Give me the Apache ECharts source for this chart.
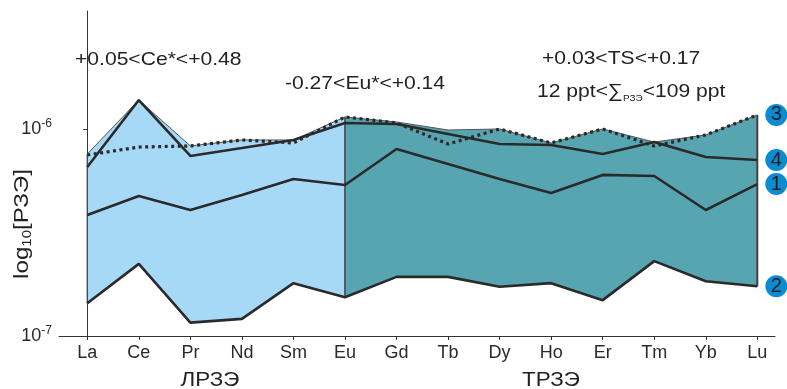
<!DOCTYPE html>
<html>
<head>
<meta charset="utf-8">
<script src="https://cdn.jsdelivr.net/npm/echarts@6/dist/echarts.min.js"></script>
<style>
  html, body { margin: 0; background: #fff; }
  #chart { width: 787px; height: 389px; }
</style>
</head>
<body>
<div id="chart"></div>
<script>
// элементы РЗЭ
const elements = ['La', 'Ce', 'Pr', 'Nd', 'Sm', 'Eu', 'Gd', 'Tb', 'Dy', 'Ho', 'Er', 'Tm', 'Yb', 'Lu'];

// концентрации
const sample1 = [3.84e-7, 4.75e-7, 4.06e-7, 4.80e-7, 5.73e-7, 5.36e-7, 8.00e-7, 6.78e-7, 5.73e-7, 4.91e-7, 6.00e-7, 5.93e-7, 4.06e-7, 5.42e-7];
const sample2 = [1.44e-7, 2.23e-7, 1.16e-7, 1.21e-7, 1.80e-7, 1.54e-7, 1.93e-7, 1.93e-7, 1.73e-7, 1.80e-7, 1.49e-7, 2.30e-7, 1.84e-7, 1.74e-7];
const sample3 = [7.49e-7, 8.18e-7, 8.28e-7, 8.85e-7, 8.56e-7, 1.143e-6, 1.069e-6, 8.46e-7, 1.00e-6, 8.56e-7, 1.00e-6, 8.28e-7, 9.36e-7, 1.169e-6];
const sample4 = [6.55e-7, 1.38e-6, 7.41e-7, 8.09e-7, 8.85e-7, 1.069e-6, 1.057e-6, 9.46e-7, 8.46e-7, 8.37e-7, 7.57e-7, 8.65e-7, 7.32e-7, 7.08e-7];
// верхняя граница поля
const upperBound = [7.57e-7, 1.38e-6, 8.28e-7, 8.85e-7, 8.85e-7, 1.143e-6, 1.081e-6, 9.89e-7, 1.00e-6, 8.56e-7, 1.00e-6, 8.65e-7, 9.36e-7, 1.169e-6];
const lowerBound = sample2.map((v, i) => Math.min(v, sample1[i], sample3[i], sample4[i]));

const yTickExp = [-7, -6];
const lreeIdx = [0, 1, 2, 3, 4, 5];
const hreeIdx = [5, 6, 7, 8, 9, 10, 11, 12, 13];
const edgeIdx = [0, 5, 13];

const lg = v => Math.log10(v);
const lineColor = '#2a2a2a';
const font = 'Liberation Sans, Arial, sans-serif';

const chart = echarts.init(document.getElementById('chart'));

// поле между верхней и нижней границей
const band = (idx, color) => ({
  type: 'custom', silent: true, z: 1,
  data: [[idx[0], lg(upperBound[idx[0]])]],
  renderItem: (params, api) => {
    const top = idx.map(i => api.coord([i, lg(upperBound[i])]));
    const bottom = idx.slice().reverse().map(i => api.coord([i, lg(lowerBound[i])]));
    return {
      type: 'polygon',
      shape: { points: top.concat(bottom) },
      style: { fill: color, stroke: '#555', lineWidth: 1 }
    };
  }
});

const edges = edgeIdx.map(i => ({
  type: 'line', silent: true, symbol: 'none', z: 2,
  data: [[i, lg(upperBound[i])], [i, lg(lowerBound[i])]],
  lineStyle: { width: i === 13 ? 2 : 1, color: '#444' }
}));

const sampleLine = (arr, label, dotted) => ({
  type: 'line', symbol: 'none', z: dotted ? 4 : 3,
  data: arr.map((v, i) => [i, lg(v)]),
  lineStyle: dotted
    ? { width: 3.2, color: lineColor, type: [3, 3.5], cap: 'butt' }
    : { width: 2.6, color: lineColor },
  endLabel: {
    show: true,
    formatter: label,
    distance: 19,
    align: 'center',
    verticalAlign: 'middle',
    width: 22, height: 22, lineHeight: 22,
    borderRadius: 11,
    backgroundColor: '#0a8bd2',
    color: '#1e1e1e',
    fontSize: 20,
    fontFamily: font
  }
});

const txt = (x, y, text, rich) => ({
  type: 'text', x, y, scaleX: 1.11, silent: true,
  style: {
    text, fill: '#222', font: '19px ' + font,
    align: 'left', verticalAlign: 'middle', rich
  }
});

const option = {
  animation: false,
  grid: { left: 59, right: 12, top: 11, bottom: 53 },
  xAxis: {
    type: 'value',
    min: -0.549,
    max: 13.343,
    axisLine: { lineStyle: { color: '#333', width: 1 } },
    axisTick: { customValues: elements.map((e, i) => i), length: 4, lineStyle: { color: '#333' } },
    axisLabel: {
      customValues: elements.map((e, i) => i),
      formatter: v => elements[v],
      fontSize: 18, fontFamily: font, color: '#2a2a2a', margin: 8
    },
    splitLine: { show: false }
  },
  yAxis: {
    type: 'value',
    min: -7,
    max: -5.43,
    axisLine: { show: true, lineStyle: { color: '#333', width: 1 } },
    axisTick: { show: true, customValues: [-6], length: 4, lineStyle: { color: '#333' } },
    axisLabel: {
      customValues: yTickExp,
      formatter: v => '{a|10}{b|' + v + '}',
      margin: 7,
      rich: {
        a: { fontSize: 18, fontFamily: font, color: '#2a2a2a', lineHeight: 22 },
        b: { fontSize: 12, fontFamily: font, color: '#2a2a2a', verticalAlign: 'top', lineHeight: 12 }
      }
    },
    splitLine: { show: false }
  },
  graphic: [
    txt(75, 60, '+0.05<Ce*<+0.48'),
    txt(285, 84, '-0.27<Eu*<+0.14'),
    txt(542, 59, '+0.03<TS<+0.17'),
    txt(537, 92, '{a|12 ppt<∑}{s|РЗЭ}{a|<109 ppt}', {
      a: { fontSize: 19, fontFamily: font, fill: '#222', lineHeight: 22 },
      s: { fontSize: 9, fontFamily: font, fill: '#222', verticalAlign: 'bottom', lineHeight: 9 }
    }),
    {
      type: 'text', x: 210, y: 380, scaleX: 1.12, silent: true,
      style: { text: 'ЛРЗЭ', fill: '#222', font: '20px ' + font, align: 'center', verticalAlign: 'middle' }
    },
    {
      type: 'text', x: 551, y: 380, scaleX: 1.12, silent: true,
      style: { text: 'ТРЗЭ', fill: '#222', font: '20px ' + font, align: 'center', verticalAlign: 'middle' }
    },
    {
      type: 'text', x: 22, y: 224, rotation: Math.PI / 2, scaleX: 1.15, silent: true,
      style: {
        text: '{a|log}{s|10}{a|[РЗЭ]}', align: 'center', verticalAlign: 'middle',
        rich: {
          a: { fontSize: 21, fontFamily: font, fill: '#222', lineHeight: 24 },
          s: { fontSize: 13, fontFamily: font, fill: '#222', verticalAlign: 'bottom', lineHeight: 13 }
        }
      }
    }
  ],
  series: [
    band(lreeIdx, '#a6d9f6'),
    band(hreeIdx, '#57a5b1'),
    ...edges,
    sampleLine(sample1, '1'),
    sampleLine(sample2, '2'),
    sampleLine(sample4, '4'),
    sampleLine(sample3, '3', true)
  ]
};

chart.setOption(option);
</script>
</body>
</html>
